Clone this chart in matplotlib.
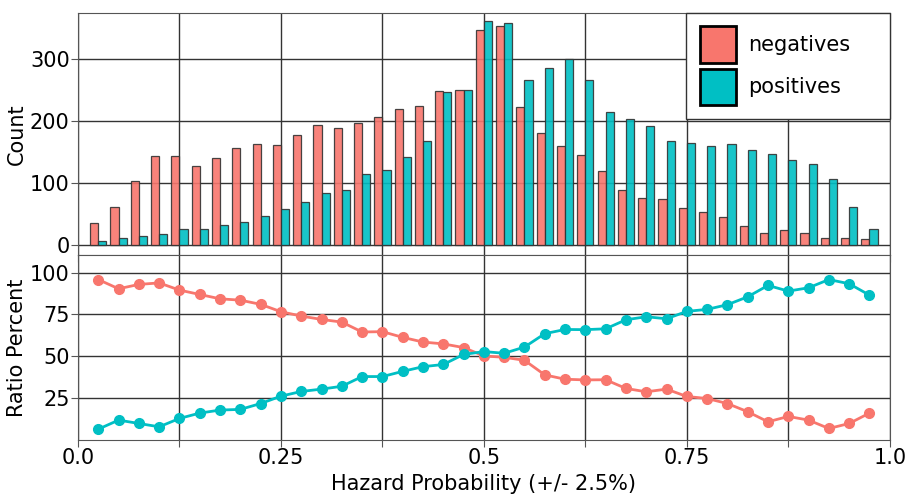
# hazard probability histogram + ratio plot

import numpy as np
import matplotlib.pyplot as plt

# bin centres (+/- 2.5%)
bins = [0.025, 0.05, 0.075, 0.1, 0.125, 0.15, 0.175, 0.2, 0.225, 0.25,
        0.275, 0.3, 0.325, 0.35, 0.375, 0.4, 0.425, 0.45, 0.475, 0.5,
        0.525, 0.55, 0.575, 0.6, 0.625, 0.65, 0.675, 0.7, 0.725, 0.75,
        0.775, 0.8, 0.825, 0.85, 0.875, 0.9, 0.925, 0.95, 0.975]

# counts per bin
neg_count = [35, 62, 103, 143, 143, 128, 140, 157, 163, 161,
             177, 194, 188, 196, 207, 219, 224, 248, 250, 347,
             353, 223, 180, 160, 145, 119, 89, 76, 74, 60,
             53, 45, 31, 19, 24, 20, 11, 11, 10]
pos_count = [7, 12, 14, 17, 25, 26, 33, 37, 46, 58,
             70, 83, 88, 115, 121, 142, 168, 246, 250, 361,
             358, 266, 285, 299, 266, 214, 203, 191, 168, 165,
             159, 163, 153, 146, 137, 131, 107, 62, 26]

# ratio percent per bin
neg_ratio = [95.8, 90.3, 92.9, 93.8, 89.5, 86.9, 84.3, 83.5, 81.0, 76.6,
             74.0, 72.0, 70.4, 64.5, 64.7, 61.3, 58.5, 57.4, 55.2, 50.2,
             49.4, 47.6, 38.9, 36.3, 35.9, 36.0, 30.8, 28.8, 30.4, 26.0,
             24.8, 21.8, 16.9, 10.9, 14.1, 11.9, 6.9, 9.9, 16.1]
pos_ratio = [6.5, 11.9, 9.9, 7.9, 12.9, 16.1, 17.9, 18.3, 21.8, 26.2,
             29.0, 30.4, 32.1, 37.9, 37.9, 41.0, 43.8, 45.1, 51.1, 52.8,
             51.8, 55.5, 63.5, 66.0, 65.9, 66.4, 71.8, 73.6, 72.4, 76.8,
             78.0, 80.8, 85.5, 92.3, 88.9, 90.9, 95.8, 93.3, 86.5]

red = "#F8766D"
teal = "#00BFC4"
fs = 15

x = np.array(bins)
w = 0.01

fig = plt.figure(figsize=(9.07, 4.95), dpi=100)
ax1 = fig.add_axes([0.086, 0.485, 0.895, 0.489])
ax2 = fig.add_axes([0.086, 0.111, 0.895, 0.374], sharex=ax1)

# top: grouped bars
ax1.bar(x - w / 2, neg_count, width=w, color=red, alpha=0.9,
        edgecolor="#333333", linewidth=0.9, label="negatives", zorder=3)
ax1.bar(x + w / 2, pos_count, width=w, color=teal, alpha=0.9,
        edgecolor="#333333", linewidth=0.9, label="positives", zorder=3)
ax1.set_ylim(-16, 374)
ax1.set_yticks([0, 100, 200, 300])
ax1.set_ylabel("Count", fontsize=fs, labelpad=2)
leg = ax1.legend(loc="upper right", fontsize=fs, handlelength=1.75,
                 handleheight=2.3, borderaxespad=0, fancybox=False,
                 borderpad=0.65, labelspacing=0.3, handletextpad=0.6,
                 bbox_to_anchor=(0.749, 0.0, 0.251, 1.0), mode="expand",
                 framealpha=1)
leg.get_frame().set_edgecolor("#333333")
leg.get_frame().set_linewidth(1)
for h in leg.legend_handles:
    h.set_edgecolor("black")
    h.set_linewidth(2)
    h.set_alpha(1)
plt.setp(ax1.get_xticklabels(), visible=False)

# bottom: ratio percent
ax2.plot(x, neg_ratio, "-o", color=red, lw=2, ms=7, zorder=3)
ax2.plot(x, pos_ratio, "-o", color=teal, lw=2, ms=7, zorder=3)
ax2.set_ylim(0, 110.5)
ax2.set_yticks([25, 50, 75, 100])
ax2.set_ylabel("Ratio Percent", fontsize=fs, labelpad=2)
ax2.set_xlabel("Hazard Probability (+/- 2.5%)", fontsize=fs)

ax1.set_xlim(0, 1)
ticks = np.arange(0, 1.001, 0.125)
ax2.set_xticks(ticks)
ax2.set_xticklabels(["0.0", "", "0.25", "", "0.5", "", "0.75", "", "1.0"])

for ax in (ax1, ax2):
    ax.grid(True, color="#333333", linewidth=1, zorder=0)
    ax.set_axisbelow(True)
    ax.tick_params(labelsize=fs, length=5, color="#555555", pad=1)
    for s in ax.spines.values():
        s.set_color("#555555")

plt.savefig("out.png", dpi=100)
